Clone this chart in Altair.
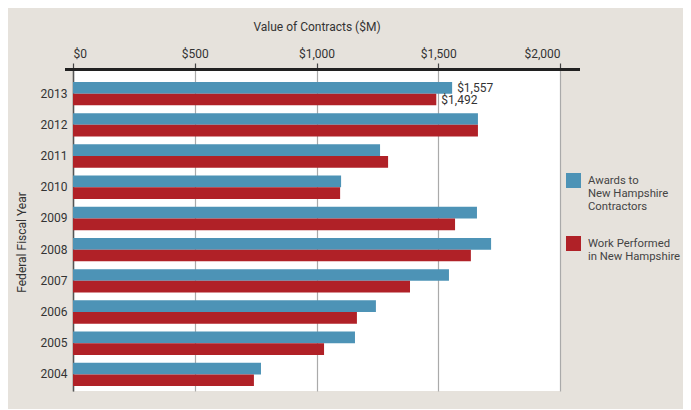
import altair as alt
import pandas as pd

years = ["2013", "2012", "2011", "2010", "2009", "2008", "2007", "2006", "2005", "2004"]
awards = [1557, 1663, 1261, 1101, 1659, 1717, 1544, 1244, 1158, 772]
work = [1492, 1663, 1294, 1097, 1569, 1634, 1384, 1166, 1031, 743]
series = ["Awards to New Hampshire Contractors", "Work Performed in New Hampshire"]
colors = ["#4d93b6", "#b02127"]
x_ticks = [0, 500, 1000, 1500, 2000]
labeled_year = "2013"

rows = []
for i, y in enumerate(years):
    rows.append({"year": y, "series": series[0], "value": awards[i]})
    rows.append({"year": y, "series": series[1], "value": work[i]})
df = pd.DataFrame(rows)

FONT = "Roboto"
FS = 12

label_expr = (
    "datum.label == 'Awards to New Hampshire Contractors' ? "
    "['Awards to', 'New Hampshire', 'Contractors'] : "
    "['Work Performed', 'in New Hampshire']"
)

y_enc = alt.Y(
    "year:N",
    sort=years,
    scale=alt.Scale(paddingInner=0.25, paddingOuter=0.27, align=0.71),
    axis=alt.Axis(
        title="Federal Fiscal Year",
        titleFont=FONT, titleFontSize=FS, titleFontWeight="normal", titleColor="#333333",
        titlePadding=12, titleY=172,
        labelFont=FONT, labelFontSize=FS, labelColor="#333333", labelPadding=6,
        ticks=False, domainColor="#555555", domainWidth=1.5,
        grid=False,
    ),
)

x_enc = alt.X(
    "value:Q",
    scale=alt.Scale(domain=[0, 2000], nice=False),
    axis=alt.Axis(
        orient="top",
        title="Value of Contracts ($M)",
        titleFont=FONT, titleFontSize=FS, titleFontWeight="normal", titleColor="#333333",
        titlePadding=14,
        values=x_ticks,
        labelExpr="'$' + format(datum.value, ',')",
        labelFont=FONT, labelFontSize=FS, labelColor="#333333", labelPadding=3,
        tickSize=7, tickColor="#444444", tickWidth=1.2,
        domain=False,
        grid=True, gridColor="#aaaaaa", gridWidth=1.2,
    ),
)

bars = alt.Chart(df).mark_bar(size=11.7).encode(
    x=x_enc,
    y=y_enc,
    yOffset=alt.YOffset("series:N", sort=series),
    color=alt.Color(
        "series:N",
        sort=series,
        scale=alt.Scale(domain=series, range=colors),
        legend=alt.Legend(
            title=None,
            orient="none",
            legendX=493,
            legendY=103,
            symbolType="square",
            symbolSize=225,
            symbolStrokeWidth=0,
            symbolOpacity=1,
            labelExpr=label_expr,
            labelFont=FONT,
            labelFontSize=11.3,
            labelColor="#444444",
            labelOffset=7,
            labelBaseline="middle",
            labelLimit=200,
            rowPadding=23,
            padding=0,
        ),
    ),
)

texts = alt.Chart(df).transform_filter(
    alt.datum.year == labeled_year
).mark_text(align="left", dx=5, font=FONT, fontSize=FS, color="#333333").encode(
    x="value:Q",
    y=alt.Y("year:N", sort=years),
    yOffset=alt.YOffset("series:N", sort=series),
    text=alt.Text("value:Q", format="$,"),
)

top_line = alt.Chart(df).mark_rule(color="#222222", strokeWidth=1.5).encode(
    x=alt.value(-8), x2=alt.value(507), y=alt.value(-0.5)
)

chart = alt.layer(bars, texts, top_line).properties(
    width=487,
    height=321,
    background="#e6e2dc",
    padding={"left": 65, "top": 62, "right": 123, "bottom": 18},
    autosize=alt.AutoSizeParams(type="none"),
).configure_view(fill="white", stroke=None)

chart.save("out.html", embed_options={"renderer": "svg", "actions": False})
